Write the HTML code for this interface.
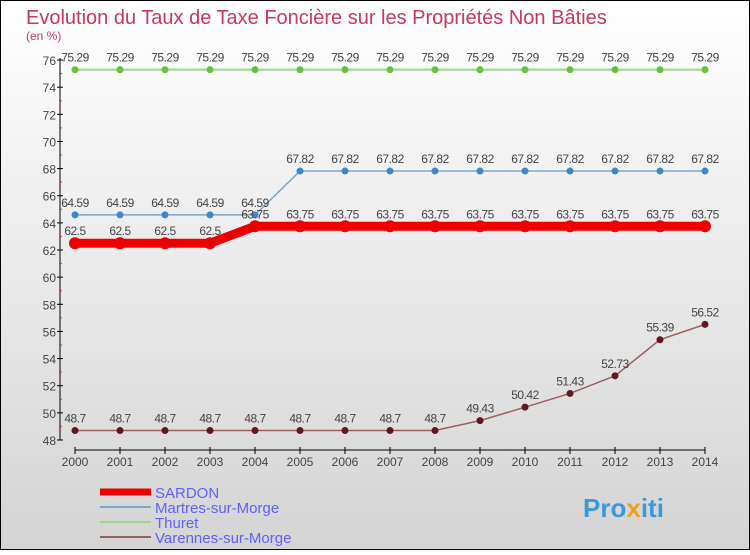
<!DOCTYPE html>
<html><head><meta charset="utf-8"><style>
body{margin:0}
svg text{font-family:"Liberation Sans",sans-serif}
</style></head><body>
<svg id="c" width="750" height="550" xmlns="http://www.w3.org/2000/svg">
<defs><linearGradient id="bg" x1="0" y1="0" x2="0" y2="1"><stop offset="0" stop-color="#ffffff"/><stop offset="1" stop-color="#d4d4d4"/></linearGradient></defs>
<rect x="0.5" y="0.5" width="749" height="549" fill="url(#bg)" stroke="#000"/>
<text x="26" y="24" font-size="20" fill="#c8385e">Evolution du Taux de Taxe Foncière sur les Propriétés Non Bâties</text>
<text x="26" y="40" font-size="12" fill="#c8385e">(en %)</text>
<g id="axes"></g>
<g id="series"></g>
<g id="legend"></g>
<text x="583" y="517" font-size="26" font-weight="bold" fill="#3a9ad9">Pro<tspan fill="#f0a020">x</tspan>iti</text>
</svg>
<script>
const years=[2000,2001,2002,2003,2004,2005,2006,2007,2008,2009,2010,2011,2012,2013,2014];
const sardon=[62.5,62.5,62.5,62.5,63.75,63.75,63.75,63.75,63.75,63.75,63.75,63.75,63.75,63.75,63.75];
const martres=[64.59,64.59,64.59,64.59,64.59,67.82,67.82,67.82,67.82,67.82,67.82,67.82,67.82,67.82,67.82];
const thuret=[75.29,75.29,75.29,75.29,75.29,75.29,75.29,75.29,75.29,75.29,75.29,75.29,75.29,75.29,75.29];
const varennes=[48.7,48.7,48.7,48.7,48.7,48.7,48.7,48.7,48.7,49.43,50.42,51.43,52.73,55.39,56.52];
const yTicks=[48,50,52,54,56,58,60,62,64,66,68,70,72,74,76];
const NS="http://www.w3.org/2000/svg";
const X=i=>75+i*45;
const Y=v=>440-(v-48)*13.57;
function mk(p,t,a){const e=document.createElementNS(NS,t);for(const k in a)e.setAttribute(k,a[k]);p.appendChild(e);return e;}
const ax=document.getElementById('axes');
let l=mk(ax,'line',{x1:60,y1:58,x2:60,y2:440,stroke:'#000'});


yTicks.forEach((v,k)=>{
  mk(ax,'line',{x1:57,y1:Y(v),x2:63,y2:Y(v),stroke:'#000'});
  if(k<yTicks.length-1) mk(ax,'line',{x1:59,y1:Y(v+1),x2:62,y2:Y(v+1),stroke:'#e03030'});
  const t=mk(ax,'text',{x:56,y:Y(v)+5,'font-size':12,'text-anchor':'end',fill:'#444'});t.textContent=v;
  
  
});
l=mk(ax,'line',{x1:75,y1:450,x2:705,y2:450,stroke:'#000'});


years.forEach((y,i)=>{
  mk(ax,'line',{x1:X(i),y1:447,x2:X(i),y2:454,stroke:'#000'});
  const t=mk(ax,'text',{x:X(i),y:466,'font-size':12,'text-anchor':'middle',fill:'#444'});t.textContent=y;
  
  
});
const sg=document.getElementById('series');
function series(data,name,color,dot,w,r){
  const g=mk(sg,'g',{});
  
  
  const p=mk(g,'polyline',{points:data.map((v,i)=>X(i)+','+Y(v)).join(' '),fill:'none',stroke:color,'stroke-width':w});
  
  
  data.forEach((v,i)=>{
    const c=mk(g,'circle',{cx:X(i),cy:Y(v),r:r,fill:dot});
    
    
    const t=mk(g,'text',{x:X(i),y:Y(v)-8,'font-size':12,'text-anchor':'middle',fill:'#444','letter-spacing':'-0.5'});t.textContent=v;
    
    
  });
}
series(thuret,'thuret','#9dd88a','#6cc040',2,3.5);
series(martres,'martres','#7aa8c8','#3c88c8',1.5,3.5);
series(sardon,'sardon','#ee0000','#ee0000',9,6);
series(varennes,'varennes','#9a6060','#601820',1.5,3.5);
const lg=document.getElementById('legend');
[['SARDON','#ee0000',7],['Martres-sur-Morge','#7aa8c8',2],['Thuret','#9dd88a',2],['Varennes-sur-Morge','#9a6060',2]].forEach((e,i)=>{
  const y=492+i*15;
  mk(lg,'line',{x1:100,y1:y,x2:151,y2:y,stroke:e[1],'stroke-width':e[2]});
  const t=mk(lg,'text',{x:155,y:y+6,'font-size':15,fill:'#6060ff'});t.textContent=e[0];
  
  
});
</script>
</body></html>
